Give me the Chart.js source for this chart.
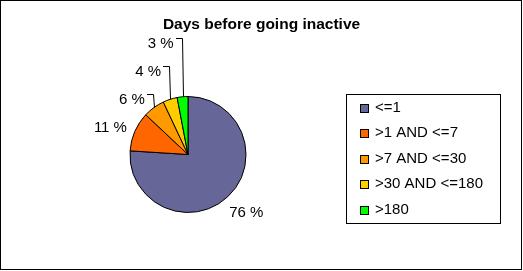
<!DOCTYPE html>
<html>
<head>
<meta charset="utf-8">
<script src="https://cdn.jsdelivr.net/npm/chart.js@4.4.0/dist/chart.umd.min.js"></script>
<style>
  body { margin: 0; background: #fff; }
  #wrap { width: 523px; height: 271px; position: relative; }
</style>
</head>
<body>
<div id="wrap"><canvas id="pieChart"></canvas></div>
<script>
// chart data
const chartTitle = 'Days before going inactive';
const categories = ['<=1', '>1 AND <=7', '>7 AND <=30', '>30 AND <=180', '>180'];
const shares = [76, 11, 6, 4, 3];
const sliceColors = ['#666699', '#FF6600', '#FF9900', '#FFCC00', '#00FF00'];

const FONT = '"Liberation Sans", Arial, sans-serif';

// frame, title and legend box (drawn around the pie)
const decorPlugin = {
  id: 'decor',
  afterDraw(chart) {
    const ctx = chart.ctx;
    ctx.save();
    ctx.strokeStyle = '#000';
    ctx.lineWidth = 1;
    ctx.strokeRect(0.5, 0.5, 521, 269);

    ctx.fillStyle = '#000';
    ctx.font = 'bold 15.5px ' + FONT;
    ctx.textAlign = 'center';
    ctx.textBaseline = 'middle';
    ctx.fillText(chartTitle, 261.5, 25);

    // legend
    ctx.strokeRect(346.5, 94.5, 154, 129);
    const labels = chart.data.labels;
    const colors = chart.data.datasets[0].backgroundColor;
    ctx.font = '15px ' + FONT;
    ctx.textAlign = 'left';
    labels.forEach((lab, i) => {
      const y = 107.5 + i * 25.5;
      const top = Math.round(y - 4);
      ctx.fillStyle = colors[i];
      ctx.fillRect(360, top, 9, 9);
      ctx.strokeRect(360.5, top + 0.5, 8, 8);
      ctx.fillStyle = '#000';
      ctx.fillText(lab, 375, y);
    });
    ctx.restore();
  }
};

// percentage labels with leader lines for the stacked small slices
const labelPlugin = {
  id: 'sliceLabels',
  afterDatasetsDraw(chart) {
    const ctx = chart.ctx;
    const meta = chart.getDatasetMeta(0);
    const total = shares.reduce((a, b) => a + b, 0);
    ctx.save();
    ctx.font = '15px ' + FONT;
    ctx.fillStyle = '#000';
    ctx.strokeStyle = '#000';
    ctx.lineWidth = 1;
    ctx.textBaseline = 'middle';
    ctx.textAlign = 'center';
    let prevLeft = null;
    meta.data.forEach((arc, i) => {
      const p = arc.getProps(['x', 'y', 'startAngle', 'endAngle', 'outerRadius'], true);
      const mid = (p.startAngle + p.endAngle) / 2;
      const dx = Math.cos(mid), dy = Math.sin(mid);
      const txt = Math.round(shares[i] / total * 100) + ' %';
      const w = ctx.measureText(txt).width;
      const ax = p.x + dx * (p.outerRadius + 10);
      const ay = p.y + dy * (p.outerRadius + 10);
      let cx = ax + dx * w / 2, cy = ay + (dy > 0 ? dy * dy * 16 : 0);
      const ex = p.x + dx * p.outerRadius, ey = p.y + dy * p.outerRadius;
      const left = dx < 0;
      if (left && prevLeft !== null) {
        cy = prevLeft - 28;
        const right = ex - 9;
        cx = right - w / 2;
        const ly = Math.round(cy - 5) + 0.5;
        ctx.beginPath();
        ctx.moveTo(Math.round(right + 2), ly);
        ctx.lineTo(Math.round(right + 8) + 0.5, ly);
        ctx.lineTo(Math.round(ex) + 0.5, ey);
        ctx.stroke();
      }
      if (left) prevLeft = cy;
      ctx.fillText(txt, cx, cy);
    });
    ctx.restore();
  }
};

new Chart(document.getElementById('pieChart'), {
  type: 'pie',
  data: {
    labels: categories,
    datasets: [{
      data: shares,
      backgroundColor: sliceColors,
      borderColor: '#000',
      borderWidth: 1
    }]
  },
  options: {
    responsive: true,
    maintainAspectRatio: false,
    animation: false,
    events: [],
    layout: { padding: { left: 129.5, right: 276.5, top: 96, bottom: 58 } },
    plugins: {
      legend: { display: false },
      title: { display: false },
      tooltip: { enabled: false }
    }
  },
  plugins: [labelPlugin, decorPlugin]
});
</script>
</body>
</html>
